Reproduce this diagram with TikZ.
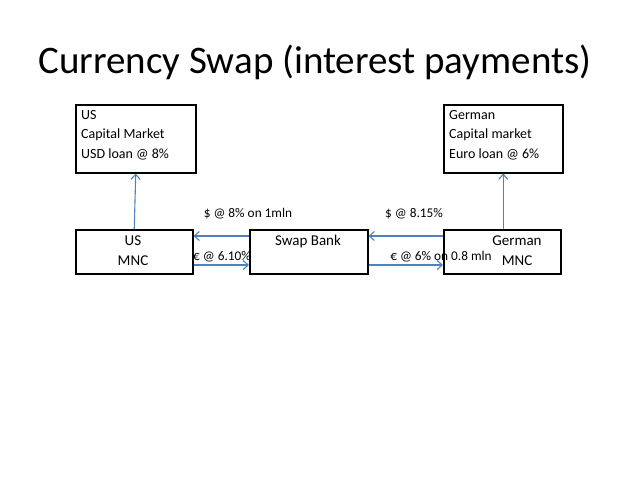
\documentclass[tikz,border=0pt]{standalone}
\usepackage{fontspec}
\setmainfont{Carlito}
\usetikzlibrary{arrows.meta}
\definecolor{arr}{RGB}{79,129,189}
\begin{document}
\begin{tikzpicture}[x=1pt,y=-1pt,
  box/.style={draw,line width=1.5pt,minimum height=44pt,inner sep=0pt},
  lab/.style={font=\fontsize{13.3}{15}\selectfont,inner sep=0pt},
  con/.style={draw=arr,line width=1.1pt,-{Straight Barb[length=5pt,width=9pt]}}]
\useasboundingbox (0,0) rectangle (638,479);
\node[font=\fontsize{39}{44}\selectfont] (title) at (315,62) {Currency Swap (interest payments)};
\node[box,minimum width=120pt,minimum height=68pt,anchor=north west] (usc) at (75,104) {};
\node[anchor=north west,align=left,font=\fontsize{14}{19.5}\selectfont,inner sep=0pt] (usct) at (81,110) {US\\Capital Market\\USD loan @ 8\%};
\node[box,minimum width=119pt,minimum height=68pt,anchor=north west] (gec) at (443,104) {};
\node[anchor=north west,align=left,font=\fontsize{14}{19.5}\selectfont,inner sep=0pt] (gect) at (449,110) {German\\Capital market\\Euro loan @ 6\%};
\node[box,minimum width=117pt,anchor=north west] (us) at (75,229) {};
\node[align=center,font=\fontsize{15}{20}\selectfont] (ust) at (133,251) {US\\MNC};
\node[box,minimum width=118pt,anchor=north west] (sb) at (249,229) {};
\node[font=\fontsize{15}{17}\selectfont] (sbt) at (308,241) {Swap Bank};
\node[box,minimum width=117pt,anchor=north west] (ge) at (443,229) {};
\node[align=center,font=\fontsize{15}{20}\selectfont] (get) at (517,251) {German\\MNC};
\draw[con] (us.north) -- (usc.south);
\draw[con] (ge.north -| gec.south) -- (gec.south);
\draw[con] (sb.north west |- 0,236) -- (us.north east |- 0,236);
\draw[con] (ge.north west |- 0,236) -- (sb.north east |- 0,236);
\draw[con] (us.north east |- 0,265) -- (sb.north west |- 0,265);
\draw[con] (sb.north east |- 0,265) -- (ge.north west |- 0,265);
\node[lab] (l1) at (248,214) {\$ @ 8\% on 1mln};
\node[lab] (l2) at (414,214) {\$ @ 8.15\%};
\node[lab] (l3) at (222,257) {€ @ 6.10\%};
\node[lab] (l4) at (441,257) {€ @ 6\% on 0.8 mln};
\end{tikzpicture}
\end{document}
